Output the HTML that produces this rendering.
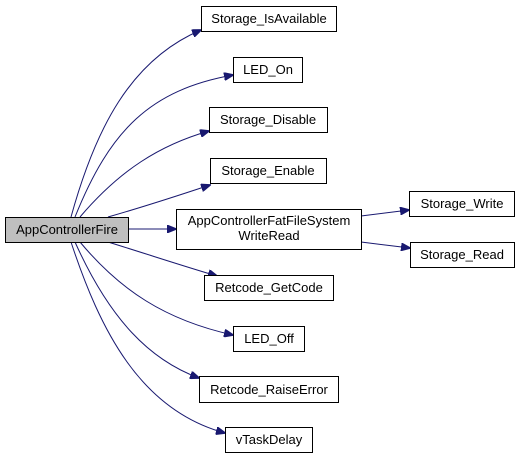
<!DOCTYPE html>
<html><head><style>body{margin:0;background:#fff}svg{display:block}text{font-family:"Liberation Sans",sans-serif;font-size:13px;fill:#000}</style></head><body>
<svg width="520" height="459" viewBox="0 0 520 459">
<defs><marker id="a" markerWidth="10" markerHeight="8" refX="9" refY="4" orient="auto" markerUnits="userSpaceOnUse"><path d="M0,0 L10,4 L0,8 z" fill="#191970" stroke="#191970"/></marker></defs>
<g fill="none" stroke="#191970" stroke-width="1" marker-end="url(#a)">
<path d="M71,217 C95,130 130,60 201,30"/>
<path d="M75,217 C110,130 150,90 233,75"/>
<path d="M80,217 C120,170 160,145 209,131"/>
<path d="M108,217 C150,205 180,195 210,185"/>
<path d="M128,229 L176,229"/>
<path d="M361,216 L409,210"/>
<path d="M361,242 L410,248"/>
<path d="M108,242 C150,255 180,265 217,276"/>
<path d="M80,242 C120,290 165,320 233,335"/>
<path d="M75,242 C110,320 150,360 199,378"/>
<path d="M71,242 C100,330 140,410 225,433"/>
</g>
<g stroke="#000" stroke-width="1">
<rect x="5.5" y="217.5" width="123" height="25" fill="#bfbfbf"/>
<rect x="201.5" y="6.5" width="135" height="25" fill="#fff"/>
<rect x="233.5" y="57.5" width="69" height="25" fill="#fff"/>
<rect x="209.5" y="107.5" width="118" height="25" fill="#fff"/>
<rect x="210.5" y="158.5" width="116" height="25" fill="#fff"/>
<rect x="176.5" y="209.5" width="185" height="40" fill="#fff"/>
<rect x="409.5" y="191.5" width="105" height="25" fill="#fff"/>
<rect x="410.5" y="242.5" width="104" height="25" fill="#fff"/>
<rect x="204.5" y="275.5" width="129" height="25" fill="#fff"/>
<rect x="233.5" y="326.5" width="71" height="25" fill="#fff"/>
<rect x="199.5" y="376.5" width="139" height="26" fill="#fff"/>
<rect x="225.5" y="427.5" width="87" height="25" fill="#fff"/>
</g>
<g text-anchor="middle">
<text x="67" y="234">AppControllerFire</text>
<text x="269" y="23">Storage_IsAvailable</text>
<text x="268" y="74">LED_On</text>
<text x="268" y="124">Storage_Disable</text>
<text x="268" y="175">Storage_Enable</text>
<text x="269" y="225">AppControllerFatFileSystem</text>
<text x="269" y="240">WriteRead</text>
<text x="462" y="208">Storage_Write</text>
<text x="462" y="259">Storage_Read</text>
<text x="269" y="292">Retcode_GetCode</text>
<text x="269" y="343">LED_Off</text>
<text x="269" y="394">Retcode_RaiseError</text>
<text x="269" y="444">vTaskDelay</text>
</g>
</svg>
</body></html>
